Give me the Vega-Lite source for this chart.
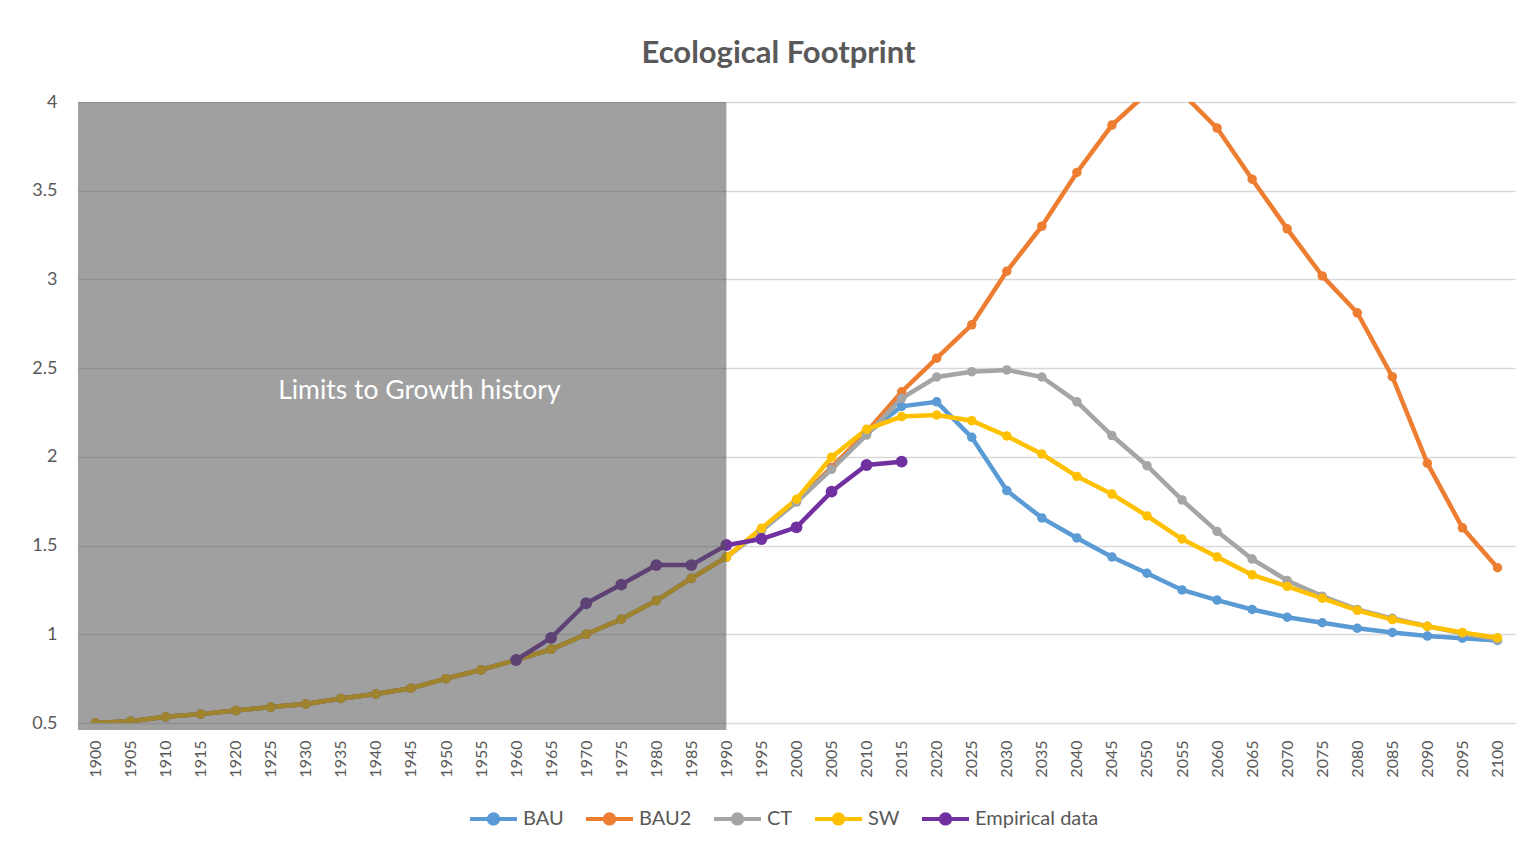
{
  "$schema": "https://vega.github.io/schema/vega-lite/v6.json",
  "width": 1437,
  "height": 621,
  "autosize": {"type": "none"},
  "padding": {"left": 78, "top": 102, "right": 9, "bottom": 125},
  "background": "white",
  "title": {"text": "Ecological Footprint", "font": "Lato", "fontSize": 31, "fontWeight": "bold", "color": "#595959", "anchor": "middle", "dx": -18, "offset": 23},
  "config": {"view": {"stroke": null}, "font": "Lato"},
  "datasets": {
    "ef": [
      {"year":1900,"series":"BAU","value":0.50},{"year":1905,"series":"BAU","value":0.51},{"year":1910,"series":"BAU","value":0.535},{"year":1915,"series":"BAU","value":0.55},{"year":1920,"series":"BAU","value":0.57},{"year":1925,"series":"BAU","value":0.59},{"year":1930,"series":"BAU","value":0.607},{"year":1935,"series":"BAU","value":0.638},{"year":1940,"series":"BAU","value":0.663},{"year":1945,"series":"BAU","value":0.696},{"year":1950,"series":"BAU","value":0.75},{"year":1955,"series":"BAU","value":0.80},{"year":1960,"series":"BAU","value":0.855},{"year":1965,"series":"BAU","value":0.915},{"year":1970,"series":"BAU","value":1.0},{"year":1975,"series":"BAU","value":1.085},{"year":1980,"series":"BAU","value":1.19},{"year":1985,"series":"BAU","value":1.315},{"year":1990,"series":"BAU","value":1.435},
      {"year":1995,"series":"BAU","value":1.585},{"year":2000,"series":"BAU","value":1.75},{"year":2005,"series":"BAU","value":1.94},{"year":2010,"series":"BAU","value":2.13},{"year":2015,"series":"BAU","value":2.285},{"year":2020,"series":"BAU","value":2.31},{"year":2025,"series":"BAU","value":2.11},{"year":2030,"series":"BAU","value":1.81},{"year":2035,"series":"BAU","value":1.656},{"year":2040,"series":"BAU","value":1.543},{"year":2045,"series":"BAU","value":1.436},{"year":2050,"series":"BAU","value":1.344},{"year":2055,"series":"BAU","value":1.25},{"year":2060,"series":"BAU","value":1.193},{"year":2065,"series":"BAU","value":1.14},{"year":2070,"series":"BAU","value":1.096},{"year":2075,"series":"BAU","value":1.065},{"year":2080,"series":"BAU","value":1.034},{"year":2085,"series":"BAU","value":1.01},{"year":2090,"series":"BAU","value":0.99},{"year":2095,"series":"BAU","value":0.978},{"year":2100,"series":"BAU","value":0.965},
      {"year":1900,"series":"BAU2","value":0.50},{"year":1905,"series":"BAU2","value":0.51},{"year":1910,"series":"BAU2","value":0.535},{"year":1915,"series":"BAU2","value":0.55},{"year":1920,"series":"BAU2","value":0.57},{"year":1925,"series":"BAU2","value":0.59},{"year":1930,"series":"BAU2","value":0.607},{"year":1935,"series":"BAU2","value":0.638},{"year":1940,"series":"BAU2","value":0.663},{"year":1945,"series":"BAU2","value":0.696},{"year":1950,"series":"BAU2","value":0.75},{"year":1955,"series":"BAU2","value":0.80},{"year":1960,"series":"BAU2","value":0.855},{"year":1965,"series":"BAU2","value":0.915},{"year":1970,"series":"BAU2","value":1.0},{"year":1975,"series":"BAU2","value":1.085},{"year":1980,"series":"BAU2","value":1.19},{"year":1985,"series":"BAU2","value":1.315},{"year":1990,"series":"BAU2","value":1.435},
      {"year":1995,"series":"BAU2","value":1.59},{"year":2000,"series":"BAU2","value":1.75},{"year":2005,"series":"BAU2","value":1.94},{"year":2010,"series":"BAU2","value":2.14},{"year":2015,"series":"BAU2","value":2.367},{"year":2020,"series":"BAU2","value":2.556},{"year":2025,"series":"BAU2","value":2.744},{"year":2030,"series":"BAU2","value":3.046},{"year":2035,"series":"BAU2","value":3.30},{"year":2040,"series":"BAU2","value":3.603},{"year":2045,"series":"BAU2","value":3.87},{"year":2050,"series":"BAU2","value":4.05},{"year":2055,"series":"BAU2","value":4.05},{"year":2060,"series":"BAU2","value":3.853},{"year":2065,"series":"BAU2","value":3.565},{"year":2070,"series":"BAU2","value":3.285},{"year":2075,"series":"BAU2","value":3.02},{"year":2080,"series":"BAU2","value":2.812},{"year":2085,"series":"BAU2","value":2.452},{"year":2090,"series":"BAU2","value":1.964},{"year":2095,"series":"BAU2","value":1.60},{"year":2100,"series":"BAU2","value":1.375},
      {"year":1900,"series":"CT","value":0.50},{"year":1905,"series":"CT","value":0.51},{"year":1910,"series":"CT","value":0.535},{"year":1915,"series":"CT","value":0.55},{"year":1920,"series":"CT","value":0.57},{"year":1925,"series":"CT","value":0.59},{"year":1930,"series":"CT","value":0.607},{"year":1935,"series":"CT","value":0.638},{"year":1940,"series":"CT","value":0.663},{"year":1945,"series":"CT","value":0.696},{"year":1950,"series":"CT","value":0.75},{"year":1955,"series":"CT","value":0.80},{"year":1960,"series":"CT","value":0.855},{"year":1965,"series":"CT","value":0.915},{"year":1970,"series":"CT","value":1.0},{"year":1975,"series":"CT","value":1.085},{"year":1980,"series":"CT","value":1.19},{"year":1985,"series":"CT","value":1.315},{"year":1990,"series":"CT","value":1.435},
      {"year":1995,"series":"CT","value":1.585},{"year":2000,"series":"CT","value":1.745},{"year":2005,"series":"CT","value":1.93},{"year":2010,"series":"CT","value":2.123},{"year":2015,"series":"CT","value":2.33},{"year":2020,"series":"CT","value":2.45},{"year":2025,"series":"CT","value":2.48},{"year":2030,"series":"CT","value":2.49},{"year":2035,"series":"CT","value":2.45},{"year":2040,"series":"CT","value":2.31},{"year":2045,"series":"CT","value":2.12},{"year":2050,"series":"CT","value":1.95},{"year":2055,"series":"CT","value":1.757},{"year":2060,"series":"CT","value":1.58},{"year":2065,"series":"CT","value":1.424},{"year":2070,"series":"CT","value":1.303},{"year":2075,"series":"CT","value":1.215},{"year":2080,"series":"CT","value":1.14},{"year":2085,"series":"CT","value":1.09},{"year":2090,"series":"CT","value":1.045},{"year":2095,"series":"CT","value":1.005},{"year":2100,"series":"CT","value":0.97},
      {"year":1900,"series":"SW","value":0.50},{"year":1905,"series":"SW","value":0.51},{"year":1910,"series":"SW","value":0.535},{"year":1915,"series":"SW","value":0.55},{"year":1920,"series":"SW","value":0.57},{"year":1925,"series":"SW","value":0.59},{"year":1930,"series":"SW","value":0.607},{"year":1935,"series":"SW","value":0.638},{"year":1940,"series":"SW","value":0.663},{"year":1945,"series":"SW","value":0.696},{"year":1950,"series":"SW","value":0.75},{"year":1955,"series":"SW","value":0.80},{"year":1960,"series":"SW","value":0.855},{"year":1965,"series":"SW","value":0.915},{"year":1970,"series":"SW","value":1.0},{"year":1975,"series":"SW","value":1.085},{"year":1980,"series":"SW","value":1.19},{"year":1985,"series":"SW","value":1.315},{"year":1990,"series":"SW","value":1.435},
      {"year":1995,"series":"SW","value":1.597},{"year":2000,"series":"SW","value":1.761},{"year":2005,"series":"SW","value":1.998},{"year":2010,"series":"SW","value":2.155},{"year":2015,"series":"SW","value":2.227},{"year":2020,"series":"SW","value":2.236},{"year":2025,"series":"SW","value":2.204},{"year":2030,"series":"SW","value":2.118},{"year":2035,"series":"SW","value":2.016},{"year":2040,"series":"SW","value":1.89},{"year":2045,"series":"SW","value":1.79},{"year":2050,"series":"SW","value":1.667},{"year":2055,"series":"SW","value":1.537},{"year":2060,"series":"SW","value":1.436},{"year":2065,"series":"SW","value":1.335},{"year":2070,"series":"SW","value":1.27},{"year":2075,"series":"SW","value":1.203},{"year":2080,"series":"SW","value":1.135},{"year":2085,"series":"SW","value":1.083},{"year":2090,"series":"SW","value":1.045},{"year":2095,"series":"SW","value":1.01},{"year":2100,"series":"SW","value":0.98},
      {"year":1960,"series":"Empirical data","value":0.855},{"year":1965,"series":"Empirical data","value":0.98},{"year":1970,"series":"Empirical data","value":1.175},{"year":1975,"series":"Empirical data","value":1.28},{"year":1980,"series":"Empirical data","value":1.39},{"year":1985,"series":"Empirical data","value":1.39},{"year":1990,"series":"Empirical data","value":1.503},{"year":1995,"series":"Empirical data","value":1.537},{"year":2000,"series":"Empirical data","value":1.603},{"year":2005,"series":"Empirical data","value":1.804},{"year":2010,"series":"Empirical data","value":1.954},{"year":2015,"series":"Empirical data","value":1.973}
    ],
    "history": [
      {"label": "Limits to Growth history", "start": 1897.5, "end": 1990, "low": 0.46, "high": 4, "labelYear": 1946.2, "labelValue": 2.37}
    ]
  },
  "encoding": {
    "x": {
      "field": "year", "type": "quantitative",
      "scale": {"domain": [1897.5, 2102.5], "nice": false, "zero": false},
      "axis": {
        "title": null, "values": [1900,1905,1910,1915,1920,1925,1930,1935,1940,1945,1950,1955,1960,1965,1970,1975,1980,1985,1990,1995,2000,2005,2010,2015,2020,2025,2030,2035,2040,2045,2050,2055,2060,2065,2070,2075,2080,2085,2090,2095,2100],
        "format": "d", "labelAngle": -90, "grid": false, "ticks": false, "domain": false,
        "labelPadding": 17, "labelFontSize": 16, "labelFont": "Lato", "labelColor": "#595959",
        "labelOverlap": false, "labelFlush": false
      }
    },
    "y": {
      "field": "value", "type": "quantitative",
      "scale": {"domain": [0.5, 4], "nice": false, "zero": false},
      "axis": {
        "title": null, "values": [0.5,1,1.5,2,2.5,3,3.5,4], "format": "~g",
        "domain": false, "ticks": false, "labelPadding": 21, "labelFontSize": 18, "labelFont": "Lato", "labelColor": "#595959",
        "gridColor": "#d9d9d9", "gridWidth": 1.5
      }
    }
  },
  "layer": [
    {
      "data": {"name": "ef"},
      "mark": {"type": "line", "strokeWidth": 4.5, "clip": true},
      "encoding": {
        "color": {
          "field": "series", "type": "nominal",
          "scale": {"domain": ["BAU","BAU2","CT","SW","Empirical data"], "range": ["#5B9BD5","#ED7D31","#A5A5A5","#FFC000","#7030A0"]},
          "legend": {
            "title": null, "orient": "none", "direction": "horizontal", "legendX": 390, "legendY": 691,
            "symbolType": "M-1,0L1,0M0.2,0A0.2,0.2,0,1,1,-0.2,0A0.2,0.2,0,1,1,0.2,0Z",
            "symbolSize": 2209, "symbolStrokeWidth": 4,
            "labelFont": "Lato", "labelFontSize": 20, "labelColor": "#595959",
            "labelOffset": 4, "columnPadding": 14,
            "encode": {"symbols": {"update": {"stroke": {"scale": "color", "field": "value"}, "fill": {"scale": "color", "field": "value"}, "strokeWidth": {"value": 4}, "opacity": {"value": 1}}}}
          }
        }
      }
    },
    {
      "data": {"name": "ef"},
      "mark": {"type": "circle", "opacity": 1, "clip": true},
      "encoding": {
        "color": {"field": "series", "type": "nominal"},
        "size": {"condition": {"test": "datum.series === 'Empirical data'", "value": 140}, "value": 90}
      }
    },
    {
      "data": {"name": "history"},
      "mark": {"type": "rect", "fill": "#525252", "opacity": 0.55, "clip": false},
      "encoding": {
        "x": {"field": "start", "type": "quantitative"},
        "x2": {"field": "end"},
        "y": {"field": "low", "type": "quantitative"},
        "y2": {"field": "high"}
      }
    },
    {
      "data": {"name": "history"},
      "mark": {"type": "text", "color": "white", "font": "Lato", "fontSize": 26.5, "align": "center", "baseline": "middle"},
      "encoding": {
        "x": {"field": "labelYear", "type": "quantitative"},
        "y": {"field": "labelValue", "type": "quantitative"},
        "text": {"field": "label"}
      }
    }
  ]
}
